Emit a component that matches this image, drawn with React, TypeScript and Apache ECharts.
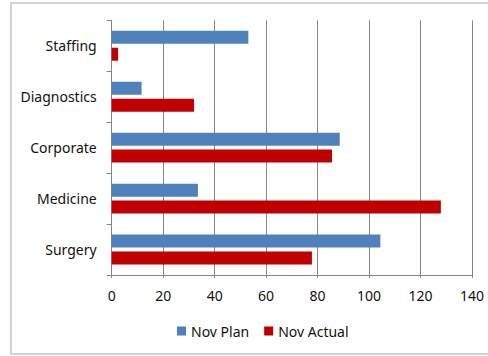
import React, { useEffect, useRef } from "react";
import * as echarts from "echarts";

const categories = ["Surgery", "Medicine", "Corporate", "Diagnostics", "Staffing"];
const seriesNames = ["Nov Plan", "Nov Actual"];
const planValues = [104.4, 33.5, 88.6, 11.6, 53.1];
const actualValues = [77.8, 127.9, 85.6, 32, 2.5];

export default function App() {
  const ref = useRef<HTMLDivElement>(null);
  useEffect(() => {
    document.body.style.margin = "0";
    const chart = echarts.init(ref.current!, null, { renderer: "svg" });
    const font = "Noto Sans";
    chart.setOption({
      animation: false,
      backgroundColor: "#ffffff",
      graphic: [
        {
          type: "rect",
          shape: { x: 11, y: 3, width: 500, height: 351 },
          style: { fill: "none", stroke: "#c6c6c6", lineWidth: 1.5 },
          silent: true,
        },
      ],
      grid: { left: 111.7, right: 16, top: 20.3, bottom: 81, containLabel: false },
      legend: {
        data: seriesNames,
        top: 319,
        left: 172,
        itemWidth: 9,
        itemHeight: 9,
        itemGap: 15,
        icon: "rect",
        textStyle: { fontFamily: font, fontSize: 14, color: "#111111" },
      },
      xAxis: {
        type: "value",
        min: 0,
        max: 140,
        interval: 20,
        axisLine: { show: true, lineStyle: { color: "#868686" } },
        axisTick: { show: true, length: 3, lineStyle: { color: "#868686" } },
        splitLine: { show: true, lineStyle: { color: "#868686", width: 1 } },
        axisLabel: { fontFamily: font, fontSize: 14, color: "#111111", margin: 13 },
      },
      yAxis: {
        type: "category",
        data: categories,
        axisLine: { show: true, lineStyle: { color: "#868686" } },
        axisTick: { show: true, length: 5, alignWithLabel: false, lineStyle: { color: "#868686" } },
        axisLabel: { fontFamily: font, fontSize: 14, color: "#111111", margin: 15 },
      },
      series: [
        {
          name: seriesNames[0],
          type: "bar",
          data: planValues,
          barWidth: 13,
          barGap: "30%",
          itemStyle: { color: "#4F81BD" },
        },
        {
          name: seriesNames[1],
          type: "bar",
          data: actualValues,
          barWidth: 13,
          barGap: "30%",
          itemStyle: { color: "#C00000" },
        },
      ],
    });
    return () => chart.dispose();
  }, []);
  return (
    <div
      ref={ref}
      style={{ position: "fixed", left: 0, top: 0, width: 488, height: 356 }}
    />
  );
}
